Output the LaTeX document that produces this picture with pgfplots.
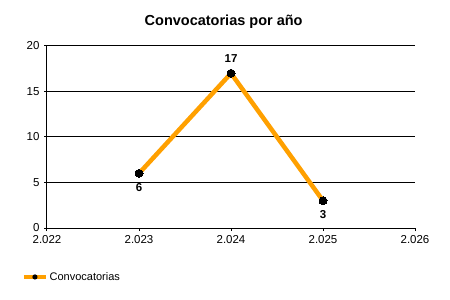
\documentclass[border=0pt]{standalone}
\usepackage{pgfplots}
\pgfplotsset{compat=1.18}
\usepackage{fontspec}
\setmainfont{Liberation Sans}
\definecolor{lineorange}{RGB}{255,160,0}
\begin{document}
\begin{tikzpicture}
\path[use as bounding box] (0,0) rectangle (450bp,300bp);
\begin{axis}[
  scale only axis,
  width=368bp, height=182bp,
  anchor=south west, at={(47bp,72bp)},
  xmin=2022, xmax=2026, ymin=0, ymax=20,
  xtick={2022,2023,2024,2025,2026},
  ytick={0,5,10,15,20},
  scaled x ticks=false,
  axis x line*=bottom, axis y line*=left,
  axis line style={black, line width=1bp, -},
  tick align=outside, major tick length=3bp,
  tick style={black, line width=1bp},
  ymajorgrids, grid style={black, line width=1bp},
  /pgf/number format/assume math mode=true,
  xticklabel style={/pgf/number format/1000 sep={.}, font=\fontsize{11.5bp}{13bp}\selectfont, yshift=-1bp},
  yticklabel style={font=\fontsize{11.5bp}{13bp}\selectfont, xshift=-1bp},
  title={\bfseries Convocatorias por año},
  title style={font=\fontsize{14.5bp}{16bp}\selectfont, at={(0.48,1)}, yshift=8bp},
  legend style={at={(axis description cs:-0.068,-0.269)}, anchor=west, draw=none, fill=none, inner sep=0pt, font=\fontsize{11bp}{13bp}\selectfont},
  legend cell align=left,
  legend image code/.code={\draw[lineorange, line width=3.5bp] (0bp,0bp) -- (22bp,0bp); \path[fill=black, draw=none] (11bp,0bp) circle[radius=2.6bp];},
  clip=false,
]
\addplot[lineorange, line width=4.5bp, mark=*, mark size=4bp, mark options={black, fill=black, line width=0pt},
  nodes near coords,
  visualization depends on={\thisrow{off} \as \labeloff},
  every node near coord/.style={font=\bfseries\fontsize{11.5bp}{13bp}\selectfont, black, anchor=center, yshift=\labeloff bp},
] table {
x y off
2023 6 -14
2024 17 15
2025 3 -14
};
\addlegendentry{Convocatorias}
\end{axis}
\end{tikzpicture}
\end{document}
